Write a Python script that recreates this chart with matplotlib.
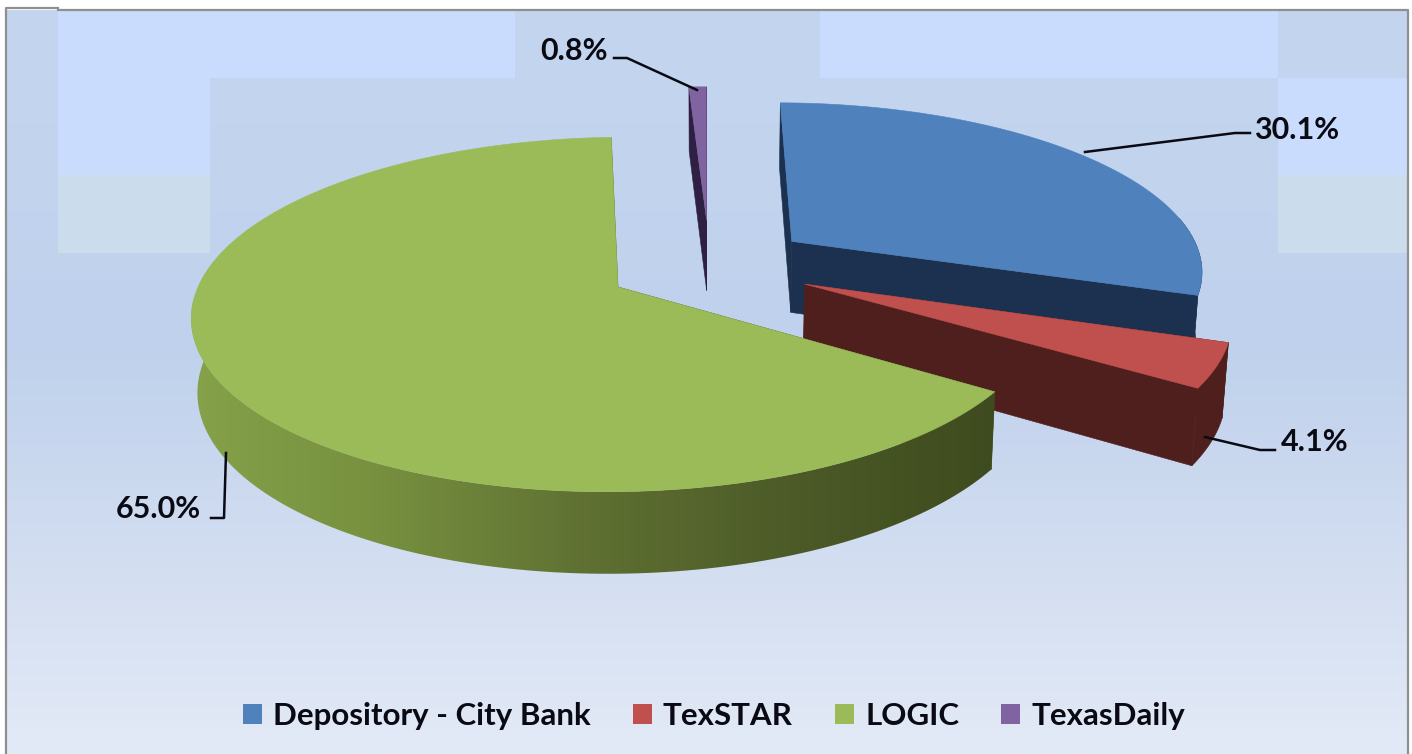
import numpy as np
import matplotlib
matplotlib.use("Agg")
import matplotlib.pyplot as plt
from matplotlib.colors import LinearSegmentedColormap
from matplotlib.patches import Patch, Polygon, Rectangle

# Данные диаграммы
names = ["Depository - City Bank", "TexSTAR", "LOGIC", "TexasDaily"]
shares = [30.1, 4.1, 65.0, 0.8]

top_colors = ["#4f81bd", "#c0504d", "#9bbb59", "#8064a2"]
wall_colors = ["#1c314f", "#4f1f1e", "#3e4a1e", "#2f1f42"]
# Смещение секторов (в радиусах пирога): вправо, назад
offsets = [(0.425, 0.275), (0.445, 0.017), (0.0, 0.0), (0.215, 0.41)]

START_ANGLE = 0.5
CX, CY = 618, 287
RX, RY = 420, 173
PERSP = 0.155
VP_X = 680

plt.rcParams["font.family"] = ["Lato", "DejaVu Sans"]
plt.rcParams["font.weight"] = "bold"

fig = plt.figure(figsize=(14.12, 7.54), dpi=100)
ax = fig.add_axes([0, 0, 1, 1])
ax.set_xlim(0, 1412)
ax.set_ylim(754, 0)
ax.axis("off")

# Фон: вертикальный градиент и светлые блоки от сжатия исходной картинки
bg = LinearSegmentedColormap.from_list(
    "bg", [(0, "#c4d6ef"), (0.45, "#bfd1ec"), (0.75, "#d3def1"), (1, "#e3eaf7")])
grad = np.linspace(0, 1, 256).reshape(-1, 1)
ax.imshow(grad, cmap=bg, extent=(7, 1408, 754, 10), aspect="auto", zorder=0)
for x, y, w, h, c in [(58, 10, 457, 68, "#cadcfd"), (58, 78, 152, 97, "#cadcfd"),
                      (58, 175, 152, 78, "#cbdcec"), (820, 10, 458, 68, "#cadcfd"),
                      (1278, 78, 130, 97, "#cadcfd"), (1278, 175, 130, 78, "#cbdcec")]:
    ax.add_patch(Rectangle((x, y), w, h, fc=c, ec="none", zorder=0.5))
ax.plot([6, 6, 58], [754, 8, 8], color="#8f8f8f", lw=1.6, zorder=1)
ax.plot([58, 1408, 1408], [10, 10, 754], color="#8f8f8f", lw=1.6, zorder=1)


def project(x, y):
    # Перспектива: задняя часть диска сжимается к точке схода
    d = 1 + PERSP * y
    px = VP_X + (CX + RX * x - VP_X) / d
    py = CY - RY * y / d
    return px, py


def drop(px, py):
    # Переход от верхней грани к нижней
    return 709 + (px - 709) * 0.988, py + 60.4 + 0.044 * py


def rim(a0, a1, off):
    t = np.radians(np.linspace(a0, a1, 200))
    px, py = project(off[0] + np.sin(t), off[1] + np.cos(t))
    return px, py, np.cos(t) < 0.15


def wall_points(xs, ys):
    bx, by = drop(xs, ys)
    return np.column_stack([np.r_[xs, bx[::-1]], np.r_[ys, by[::-1]]])


def wall(ax, xs, ys, color, z):
    ax.add_patch(Polygon(wall_points(xs, ys), fc=color, ec=color, lw=0.4, zorder=z))


green_side = LinearSegmentedColormap.from_list(
    "side", ["#87a34a", "#76903f", "#5f7032", "#4b5a27", "#3d4a1e"])

angles = START_ANGLE + np.r_[0, np.cumsum(shares)] * 3.6
# порядок отрисовки: от дальних секторов к ближним
for i, z in zip([3, 0, 1, 2], [2, 3, 4, 5]):
    off = offsets[i]
    a0, a1 = angles[i], angles[i + 1]
    rx, ry, front = rim(a0, a1, off)
    ax0, ay0 = project(off[0], off[1])
    wall(ax, np.array([rx[0], ax0]), np.array([ry[0], ay0]), wall_colors[i], z)
    if names[i] == "LOGIC":
        # боковая стенка с горизонтальным градиентом, обрезанная по контуру
        shape = Polygon(wall_points(rx[front], ry[front]), fc="none", ec="none",
                        transform=ax.transData)
        ax.add_patch(shape)
        side = ax.imshow(np.linspace(0, 1, 256).reshape(1, -1), cmap=green_side,
                         extent=(170, 1010, 600, 300), aspect="auto", zorder=z)
        side.set_clip_path(shape)
    elif front.any():
        wall(ax, rx[front], ry[front], wall_colors[i], z)
    wall(ax, np.array([ax0, rx[-1]]), np.array([ay0, ry[-1]]), wall_colors[i], z)
    pts = np.column_stack([np.r_[ax0, rx], np.r_[ay0, ry]])
    ax.add_patch(Polygon(pts, fc=top_colors[i], ec=top_colors[i], lw=0.4, zorder=z + 0.1))

# Подписи и выноски
leaders = [([1085, 1235, 1250], [152, 133, 133]), ([1205, 1260, 1275], [437, 450, 450]),
           ([226, 224, 211], [453, 518, 518]), ([697, 627, 614], [90, 58, 58])]
label_pos = [(1297, 130), (1315, 442), (158, 509), (574, 51)]
for i in range(4):
    ax.plot(leaders[i][0], leaders[i][1], color="#0a0a14", lw=1.8, zorder=7)
    x, y = label_pos[i]
    ax.text(x, y, f"{shares[i]:.1f}%", ha="center", va="center", fontsize=22, color="#0a0a14", zorder=8)

handles = [Patch(fc=c, ec="none", label=n) for c, n in zip(top_colors, names)]
ax.legend(handles=handles, ncol=4, loc="center", bbox_to_anchor=(714 / 1412, 1 - 716 / 754),
          frameon=False, fontsize=22.5, handlelength=0.61, handleheight=0.61,
          handletextpad=0.35, columnspacing=1.35, labelcolor="#0a0a14")

fig.savefig("out.png", dpi=100, facecolor="white")
